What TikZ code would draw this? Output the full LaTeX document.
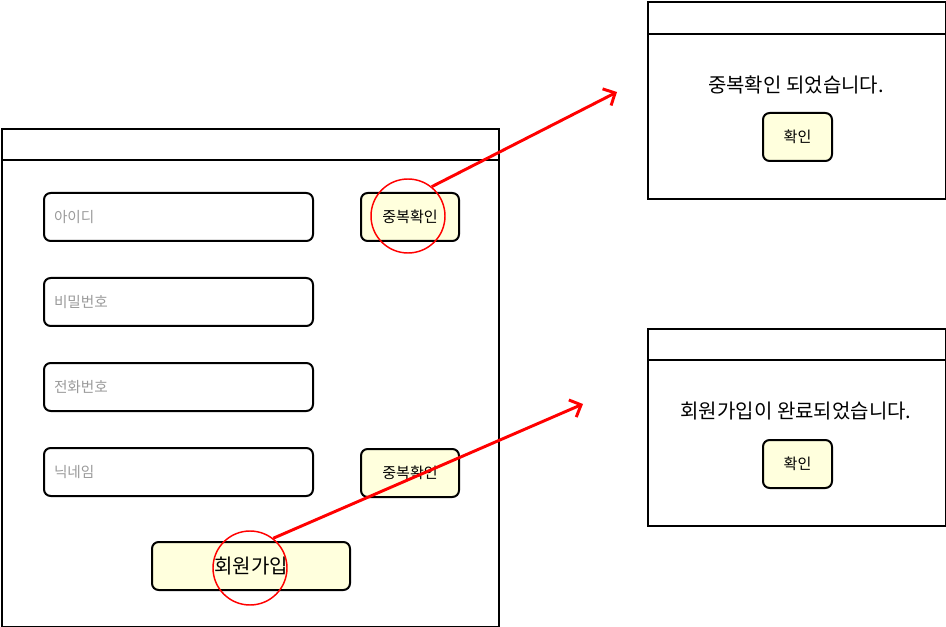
\documentclass[tikz,border=0pt]{standalone}
\usepackage{fontspec}
\setmainfont{Noto Sans CJK KR}
\usetikzlibrary{arrows.meta}
\definecolor{btnfill}{HTML}{FFFFDD}
\definecolor{hint}{HTML}{9A9A9A}

\begin{document}
\begin{tikzpicture}[x=0.75pt,y=-0.75pt,
  win/.style={draw,line width=1.5pt,anchor=north west,inner sep=0pt},
  field/.style={draw,line width=1.5pt,rounded corners=5pt,anchor=north west,
    minimum height=36pt,text width=186.75pt,inner xsep=7.5pt,align=left,
    text=hint,font=\fontsize{11}{13}\selectfont},
  btn/.style={draw,line width=1.5pt,rounded corners=5pt,fill=btnfill,anchor=north west,
    minimum height=36pt,inner sep=0pt,font=\fontsize{11.3}{13}\selectfont},
  ring/.style={draw=red,line width=1.1pt,circle,minimum size=55.5pt,inner sep=0pt},
  link/.style={red,line width=2.2pt,-{Straight Barb[length=7pt,width=14pt]}}]

\useasboundingbox (0,0) rectangle (946,627);

% main window
\node[win,minimum width=372.75pt,minimum height=373.5pt] (main) at (1,128) {};
\draw[line width=1.5pt] (1,160) -- (498,160);

\node[field] (id) at (43,192) {아이디};
\node[field] (pw) at (43,277) {비밀번호};
\node[field] (tel) at (43,362) {전화번호};
\node[field] (nick) at (43,447) {닉네임};

\node[btn,minimum width=73.5pt] (chkid) at (360,192) {중복확인};
\node[btn,minimum width=73.5pt] (chknick) at (360,448) {중복확인};
\node[btn,minimum width=148.5pt,font=\fontsize{15}{17}\selectfont] (join) at (151,541) {회원가입};

% dialogs
\node[win,minimum width=223.5pt,minimum height=147.75pt] (dlgA) at (647,1) {};
\draw[line width=1.5pt] (647,34) -- (945,34);
\node[font=\fontsize{15}{17}\selectfont] (msgA) at (796,85) {중복확인 되었습니다.};
\node[btn,minimum width=51.75pt] (okA) at (762,112) {확인};

\node[win,minimum width=223.5pt,minimum height=147.75pt] (dlgB) at (647,328) {};
\draw[line width=1.5pt] (647,360) -- (945,360);
\node[font=\fontsize{15}{17}\selectfont] (msgB) at (796,411) {회원가입이 완료되었습니다.};
\node[btn,minimum width=51.75pt] (okB) at (762,439) {확인};

% rings and links
\node[ring] (ringA) at (408,216) {};
\node[ring] (ringB) at (250,568) {};
\coordinate (tipA) at (617,92);
\coordinate (tipB) at (583,404);
\draw[link] (ringA.51) -- (tipA);
\draw[link] (ringB.52) -- (tipB);

\end{tikzpicture}
\end{document}
